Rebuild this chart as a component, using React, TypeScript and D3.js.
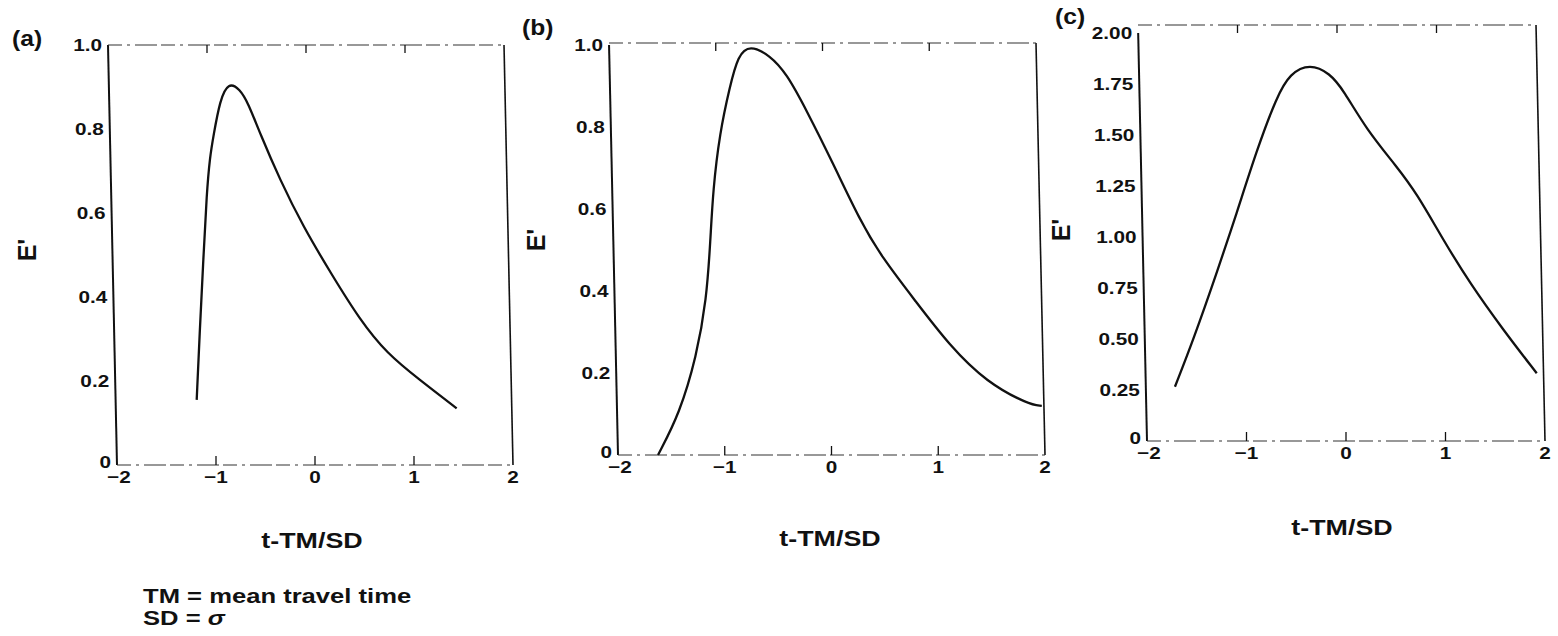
import React from 'react';
import * as d3 from 'd3';

// values
const xTicks = [-2, -1, 0, 1, 2];
const innerTicks = [-1, 0, 1];
const yTicksAB = [0, 0.2, 0.4, 0.6, 0.8, 1.0];
const yTicksC = [0, 0.25, 0.5, 0.75, 1.0, 1.25, 1.5, 1.75, 2.0];

const tA = [-1.195, -1.162, -1.128, -1.094, -1.061, -1.027, -0.96, -0.876, -0.758, -0.674, -0.556, -0.354, -0.118, 0.162, 0.455, 0.724, 1.061, 1.431];
const eA = [0.155, 0.329, 0.488, 0.648, 0.734, 0.782, 0.869, 0.912, 0.895, 0.861, 0.79, 0.679, 0.567, 0.456, 0.345, 0.266, 0.202, 0.135];

const tB = [-1.625, -1.422, -1.265, -1.171, -1.134, -1.11, -1.047, -0.953, -0.875, -0.766, -0.578, -0.422, -0.234, 0.015, 0.265, 0.472, 0.788, 1.105, 1.454, 1.85, 1.97];
const eB = [0, 0.102, 0.24, 0.378, 0.524, 0.646, 0.785, 0.898, 0.975, 1.0, 0.975, 0.931, 0.841, 0.711, 0.573, 0.482, 0.375, 0.267, 0.177, 0.123, 0.12];

const tC = [-1.719, -1.535, -1.3, -1.099, -0.897, -0.696, -0.563, -0.362, -0.161, -0.027, 0.208, 0.51, 0.711, 0.978, 1.246, 1.581, 1.917];
const eC = [0.266, 0.495, 0.822, 1.116, 1.426, 1.688, 1.802, 1.85, 1.802, 1.721, 1.525, 1.345, 1.214, 0.985, 0.773, 0.544, 0.332];

const FONT = '"Liberation Sans", Arial, Helvetica, sans-serif';
const SX = 1.22; // the scan's lettering is wider than Arial
const TILT = -9; // the scan leans: frame tops sit this many px left of the bottoms

type PanelProps = {
  tag: string;
  tagPos: [number, number];
  xr: [number, number];
  yr: [number, number];
  frameTop: number;
  ymax: number;
  yTicks: number[];
  fmt: (v: number) => string;
  t: number[];
  e: number[];
  eLabel: [number, number];
  titlePos: [number, number];
};

const Txt = ({ x, y, anchor = 'start', size = 17, sx = SX, children }: any) => (
  <text
    transform={`translate(${x},${y}) scale(${sx},1)`}
    textAnchor={anchor}
    fontFamily={FONT}
    fontWeight="bold"
    fontSize={size}
    fill="#111"
  >
    {children}
  </text>
);

const Panel = (p: PanelProps) => {
  const x = d3.scaleLinear().domain([-2, 2]).range(p.xr);
  const y = d3.scaleLinear().domain([0, p.ymax]).range(p.yr);
  const pts = p.t.map((v, i) => [v, p.e[i]] as [number, number]);
  const line = d3.line<[number, number]>()
    .x(d => x(d[0]))
    .y(d => y(d[1]))
    .curve(d3.curveBasis);
  const [x0, x1] = p.xr;
  const [yb] = p.yr;
  const ft = p.frameTop;
  // horizontal lean at a given height
  const lean = (yy: number) => TILT * (yb - yy) / (yb - ft);
  const dash = '14,5,3,5,22,4';
  return (
    <g>
      <Txt x={p.tagPos[0]} y={p.tagPos[1]} size={22} sx={1.12}>{p.tag}</Txt>
      {/* frame */}
      <line x1={x0 + lean(p.yr[1])} x2={x0} y1={p.yr[1]} y2={yb} stroke="#111" strokeWidth={2} />
      <line x1={x1 + lean(ft)} x2={x1} y1={ft} y2={yb} stroke="#111" strokeWidth={1.6} />
      <line x1={x0 + lean(ft)} x2={x1 + lean(ft)} y1={ft} y2={ft} stroke="#333" strokeWidth={1.1} strokeDasharray={dash} />
      <line x1={x0} x2={x1} y1={yb} y2={yb} stroke="#333" strokeWidth={1.1} strokeDasharray={dash} />
      {innerTicks.map(v => (
        <g key={v}>
          <line x1={x(v) + lean(ft)} x2={x(v) + lean(ft)} y1={ft} y2={ft + 8} stroke="#111" strokeWidth={1.3} />
          <line x1={x(v)} x2={x(v)} y1={yb} y2={yb - 9} stroke="#111" strokeWidth={1.3} />
        </g>
      ))}
      {p.yTicks.map(v => (
        <Txt key={v} x={x0 + lean(y(v)) - 6} y={y(v) + (v === 0 ? 3 : 6)} anchor="end">{p.fmt(v)}</Txt>
      ))}
      {xTicks.map(v => (
        <Txt key={v} x={x(v) + (v === -2 ? 2 : 0)} y={yb + 18} anchor="middle">{v < 0 ? `\u2212${-v}` : String(v)}</Txt>
      ))}
      <path d={line(pts) || ''} fill="none" stroke="#111" strokeWidth={2.3} />
      <text
        transform={`translate(${p.eLabel[0]},${p.eLabel[1]}) rotate(-90)`}
        textAnchor="middle"
        fontFamily={FONT}
        fontWeight="bold"
        fontSize={25}
        fill="#111"
      >
        E'
      </text>
      <Txt x={p.titlePos[0]} y={p.titlePos[1]} anchor="middle" size={22}>t-TM/SD</Txt>
    </g>
  );
};

const fmt1 = (v: number) => (v === 0 ? '0' : v.toFixed(1));
const fmt2 = (v: number) => (v === 0 ? '0' : v.toFixed(2));

export default function App() {
  return (
    <svg width={1558} height={636} style={{ position: 'absolute', left: 0, top: 0, background: '#fff' }}>
      <rect width={1558} height={636} fill="#fff" />
      <Panel tag="(a)" tagPos={[12, 46]} xr={[117, 513]} yr={[465, 45]} frameTop={45} ymax={1} yTicks={yTicksAB} fmt={fmt1}
        t={tA} e={eA} eLabel={[36, 250]} titlePos={[312, 548]} />
      <Panel tag="(b)" tagPos={[522, 35]} xr={[618, 1045]} yr={[455, 45]} frameTop={43} ymax={1} yTicks={yTicksAB} fmt={fmt1}
        t={tB} e={eB} eLabel={[545, 240]} titlePos={[830, 546]} />
      <Panel tag="(c)" tagPos={[1055, 24]} xr={[1147, 1545]} yr={[441, 33]} frameTop={25} ymax={2} yTicks={yTicksC} fmt={fmt2}
        t={tC} e={eC} eLabel={[1070, 230]} titlePos={[1342, 535]} />
      <Txt x={143} y={603} size={21}>TM = mean travel time</Txt>
      <Txt x={143} y={625} size={21}>SD = <tspan fontStyle="italic">σ</tspan></Txt>
    </svg>
  );
}
